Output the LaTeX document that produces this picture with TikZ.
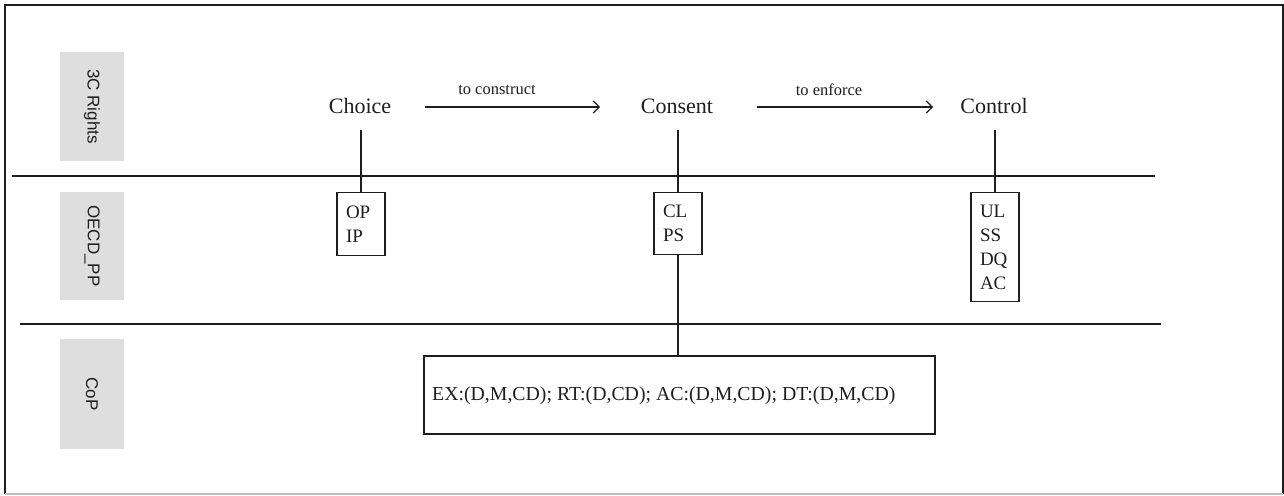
\documentclass[tikz,border=0pt]{standalone}
\usepackage{fontspec}
\setmainfont{Liberation Serif}
\newfontfamily\labelfont{Liberation Sans}
\usetikzlibrary{arrows.meta}
\definecolor{lanegrey}{HTML}{DEDEDE}
\definecolor{inkgrey}{HTML}{1E1E1E}
\begin{document}
\begin{tikzpicture}[x=1pt,y=-1pt,
  lanelabel/.style={fill=lanegrey, inner sep=0pt, minimum width=64pt, anchor=center,
     font=\labelfont\fontsize{17}{20}\selectfont, text=inkgrey},
  rightnode/.style={font=\fontsize{22}{26}\selectfont, text=inkgrey, inner sep=0pt},
  arrowlabel/.style={font=\fontsize{16.5}{20}\selectfont, text=inkgrey, inner sep=0pt},
  princbox/.style={draw=inkgrey, line width=1.4pt, font=\fontsize{19}{24}\selectfont,
     text=inkgrey, align=left, inner xsep=9pt, inner ysep=0pt, text width=30pt, anchor=north},
  conn/.style={draw=inkgrey, line width=1.4pt},
  flow/.style={draw=inkgrey, line width=1.2pt, -{Straight Barb[length=6pt,width=12pt]}},
  divider/.style={draw=inkgrey, line width=1.6pt}]
\useasboundingbox (0,0) rectangle (1284,495);
% frame
\draw[line width=1.4pt, draw=inkgrey] (5,494) -- (5,5) -- (1283,5) -- (1283,494);
\draw[line width=1.4pt, draw=lightgray] (5,494) -- (1283,494);
% lane labels
\node[lanelabel, minimum height=109pt] (lab1) at (92,106.5) {\rotatebox{-90}{3C Rights}};
\node[lanelabel, minimum height=108pt] (lab2) at (92,246) {\rotatebox{-90}{OECD\_PP}};
\node[lanelabel, minimum height=110pt] (lab3) at (92,394) {\rotatebox{-90}{CoP}};
% dividers
\coordinate (d1a) at (12,176); \coordinate (d1b) at (1155,176);
\coordinate (d2a) at (20,324); \coordinate (d2b) at (1161,324);
\draw[divider] (d1a) -- (d1b);
\draw[divider] (d2a) -- (d2b);
% rights
\node[rightnode] (choice) at (360,106) {Choice};
\node[rightnode] (consent) at (677,106) {Consent};
\node[rightnode] (control) at (994,106) {Control};
\coordinate (a1s) at (425,107); \coordinate (a1e) at (600,107);
\coordinate (a2s) at (757,107); \coordinate (a2e) at (933,107);
\draw[flow] (a1s) -- (a1e);
\draw[flow] (a2s) -- (a2e);
\node[arrowlabel] (lc) at (497,90) {to construct};
\node[arrowlabel] (le) at (829,90) {to enforce};
% principle boxes
\node[princbox, minimum height=63pt] (b1) at (361,192) {OP\\IP};
\node[princbox, minimum height=62pt] (b2) at (678,192) {CL\\PS};
\node[princbox, minimum height=109pt] (b3) at (995,192) {UL\\SS\\DQ\\AC};
% CoP box
\node[draw=inkgrey, line width=1.6pt, minimum width=511pt, minimum height=78pt, inner sep=0pt,
  anchor=north west] (cop) at (423,355) {};
\node[font=\fontsize{19.8}{24}\selectfont, text=inkgrey, inner sep=0pt, anchor=west] (coptext)
  at (432,396) {EX:(D,M,CD); RT:(D,CD); AC:(D,M,CD); DT:(D,M,CD)};
% connectors
\coordinate (c1) at (361,130); \coordinate (c2) at (678,130); \coordinate (c3) at (995,130);
\draw[conn] (c1) -- (b1.north);
\draw[conn] (c2) -- (b2.north);
\draw[conn] (c3) -- (b3.north);
\draw[conn] (b2.south) -- (b2.south |- cop.north);
\end{tikzpicture}
\end{document}
